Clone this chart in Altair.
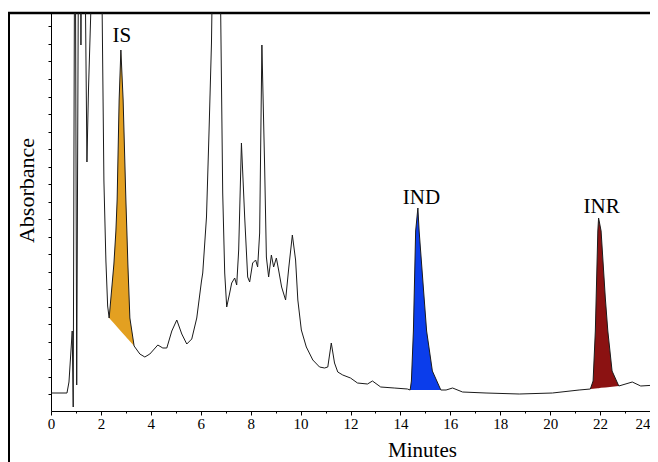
import altair as alt
import pandas as pd

# Chromatogram trace (minutes, absorbance in arbitrary units)
time_min = [0.0, 0.64, 0.72, 0.85, 0.89, 0.96, 1.03, 1.14, 1.2, 1.27, 1.44, 1.5, 1.62, 1.8, 1.98,
            2.05, 2.12, 2.2, 2.27, 2.33,
            2.52, 2.6, 2.65, 2.73, 2.8, 2.89, 3.0, 3.04, 3.08, 3.16, 3.33,
            3.56, 3.76, 3.96, 4.28, 4.48, 4.64, 4.84, 5.04, 5.24, 5.44, 5.64, 5.84, 6.03, 6.08,
            6.23, 6.33, 6.43, 6.64, 6.88, 6.96, 7.04, 7.16, 7.24, 7.36, 7.44, 7.52, 7.63, 7.76,
            7.88, 7.96, 8.08, 8.2, 8.28, 8.36, 8.45, 8.56, 8.63, 8.72, 8.83, 8.92, 9.03, 9.12,
            9.24, 9.4, 9.53, 9.67, 9.8, 9.89, 10.03, 10.23, 10.49, 10.76, 10.96, 11.09, 11.23,
            11.36, 11.49, 11.69, 12.0, 12.28, 12.68, 12.88, 13.21, 13.75, 14.28,
            14.39, 14.44, 14.52, 14.61, 14.7, 14.75, 14.95, 15.05, 15.28, 15.62,
            15.83, 16.09, 16.49, 17.43, 18.76, 20.09, 21.16,
            21.61, 21.72, 21.81, 21.91, 21.94, 22.04, 22.21, 22.31, 22.48, 22.75,
            23.29, 23.63, 24.28]
signal = [18, 18, 29, 80, 4, 600, 26, 700, 366, 700, 249, 320, 420, 900, 500,
          398, 230, 150, 105, 93,
          147, 180, 211, 311, 361, 311, 211, 180, 147, 93, 65,
          57, 54, 57, 66, 63, 63, 80, 91, 77, 67, 72, 93, 130, 138,
          194, 278, 368, 750, 218, 138, 104, 118, 128, 133, 126, 161, 268, 194,
          134, 129, 148, 151, 144, 178, 366, 244, 154, 134, 156, 144, 153, 141,
          124, 111, 144, 176, 151, 111, 81, 64, 51, 44, 43, 44, 68,
          48, 39, 36, 33, 28, 27, 30, 24, 23, 22,
          21, 30, 80, 180, 203, 180, 113, 80, 40, 21,
          21, 23, 19, 18, 17, 18, 21,
          22, 30, 80, 180, 193, 180, 113, 80, 40, 25,
          29, 25, 26]

# Integrated peaks
peak_names = ["IS", "IND", "INR"]
peak_start = [2.33, 14.39, 21.61]
peak_end = [3.33, 15.62, 22.75]
peak_colors = ["#E3A021", "#0B3DEB", "#8B1212"]
label_time = [2.84, 14.84, 22.06]
label_signal = [369, 207, 198]

x_minor = [k * 0.5 for k in range(0, 49)]
y_ticks = [17 + 17.5 * k for k in range(22)]

trace = pd.DataFrame({"t": time_min, "v": signal})

rows = []
for name, s, e in zip(peak_names, peak_start, peak_end):
    seg = trace[(trace.t >= s - 1e-9) & (trace.t <= e + 1e-9)]
    vs = seg.v.iloc[0]
    ve = seg.v.iloc[-1]
    for t, v in zip(seg.t, seg.v):
        rows.append({"peak": name, "t": t, "v": v,
                     "base": vs + (ve - vs) * (t - s) / (e - s)})
peaks = pd.DataFrame(rows)
labels = pd.DataFrame({"peak": peak_names, "t": label_time, "v": label_signal})

FONT = "'Liberation Serif', 'Times New Roman', serif"
xscale = alt.Scale(domain=[0, 24], nice=False, zero=False)
yscale = alt.Scale(domain=[0, 398], nice=False)

yaxis = alt.Axis(values=y_ticks, labels=False, grid=False, ticks=True, tickSize=3,
                 tickColor="black", domainColor="black", domainWidth=1,
                 title="Absorbance", titleFont=FONT, titleFontSize=22,
                 titleFontWeight="normal", titleColor="black", titleAngle=270,
                 titleX=-18, titleY=177, titleAlign="center",
                 titleBaseline="alphabetic")
xaxis = alt.Axis(values=x_minor, grid=False, format="d",
                 labelExpr="datum.value % 2 === 0 ? datum.label : ''",
                 tickSize=alt.condition("datum.value % 2 === 0", alt.value(4), alt.value(2)),
                 labelAlign=alt.condition("datum.value >= 24", alt.value("right"), alt.value("center")),
                 labelFlush=False, labelOverlap=False,
                 labelFont=FONT, labelFontSize=15, labelColor="black", labelPadding=1,
                 tickColor="black", domainColor="black", domainWidth=1,
                 title="Minutes", titleFont=FONT, titleFontSize=21,
                 titleFontWeight="normal", titleColor="black",
                 titleX=371, titleY=45, titleAlign="center",
                 titleBaseline="alphabetic")

frame_data = alt.Data(values=[{"f": 1}])
frame_top = alt.Chart(frame_data).mark_rule(color="black", strokeWidth=2.5).encode(
    x=alt.value(-43), x2=alt.value(599), y=alt.value(0))
frame_left = alt.Chart(frame_data).mark_rule(color="black", strokeWidth=2).encode(
    x=alt.value(-42), y=alt.value(0), y2=alt.value(460))

areas = alt.Chart(peaks).mark_area(clip=True, opacity=1).encode(
    x=alt.X("t:Q", scale=xscale, axis=xaxis),
    y=alt.Y("v:Q", scale=yscale, axis=yaxis),
    y2="base:Q",
    color=alt.Color("peak:N", scale=alt.Scale(domain=peak_names, range=peak_colors),
                    legend=None),
    detail="peak:N",
)

line = alt.Chart(trace).mark_line(color="#1a1a1a", strokeWidth=1, clip=True).encode(
    x=alt.X("t:Q", scale=xscale, axis=xaxis),
    y=alt.Y("v:Q", scale=yscale, axis=yaxis),
    order="t:Q",
)

text = alt.Chart(labels).mark_text(font=FONT, fontSize=21, color="black",
                                   align="center", baseline="alphabetic").encode(
    x=alt.X("t:Q", scale=xscale, axis=xaxis),
    y=alt.Y("v:Q", scale=yscale, axis=yaxis),
    text="peak:N",
)

chart = alt.layer(frame_top, frame_left, areas, line, text).properties(
    width=599, height=398,
    autosize=alt.AutoSizeParams(type="none"),
    padding={"left": 43, "top": 5, "right": 0, "bottom": 51},
    background="white",
).configure_view(stroke=None).configure_axis(labelFont=FONT, titleFont=FONT)

chart.save("out.html", embed_options={"renderer": "svg", "actions": False})
